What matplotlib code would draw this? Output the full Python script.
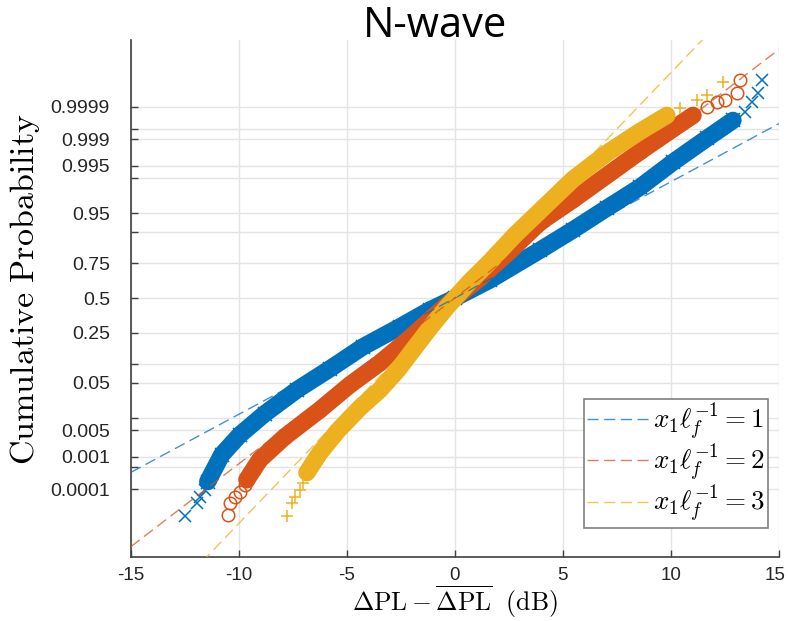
from statistics import NormalDist

import numpy as np
import matplotlib
matplotlib.use('Agg')
import matplotlib.pyplot as plt
from matplotlib.transforms import ScaledTranslation

plt.rcParams['mathtext.fontset'] = 'cm'
plt.rcParams['font.family'] = ['Liberation Sans', 'DejaVu Sans']

# ---- data (dB, cumulative probability) ----
labels = [r'$x_1\ell_f^{-1}=1$', r'$x_1\ell_f^{-1}=2$', r'$x_1\ell_f^{-1}=3$']
colors = ['#0072BD', '#D95319', '#EDB120']
markers = ['x', 'o', '+']

# dense part of each probability plot
blue_x = [-11.44, -10.79, -9.95, -8.80, -7.31, -5.79, -4.26, -2.55, -1.16, 0.0,
          1.62, 3.94, 5.46, 7.04, 8.56, 10.09, 11.67, 12.87]
blue_p = [1.77e-4, 0.00115, 0.0039, 0.0122, 0.037, 0.084, 0.171, 0.287, 0.408, 0.5,
          0.637, 0.824, 0.907, 0.960, 0.9844, 0.99587, 0.99906, 0.999726]
red_x = [-9.63, -9.03, -7.87, -6.25, -4.86, -3.47, -2.08, -1.06, 0.0,
         1.16, 2.55, 3.94, 5.46, 7.04, 8.56, 10.09, 11.02]
red_p = [2.05e-4, 8.3e-4, 0.00348, 0.0148, 0.0456, 0.1035, 0.2186, 0.349, 0.5,
         0.651, 0.820, 0.930, 0.972, 0.9915, 0.99780, 0.999500, 0.99981]
yel_x = [-6.85, -6.25, -5.42, -4.40, -3.47, -2.64, -1.94, -1.16, -0.37,
         0.69, 1.62, 2.78, 3.94, 5.46, 7.04, 8.56, 9.81]
yel_p = [3.4e-4, 0.0013, 0.0049, 0.0163, 0.037, 0.081, 0.156, 0.28, 0.43,
         0.625, 0.760, 0.890, 0.955, 0.9895, 0.99760, 0.999400, 0.99981]

# sparse tail points
blue_tx = [-12.5, -11.94, -11.81, -11.57, -11.34, 13.43, 13.75, 14.03, 14.21]
blue_tp = [1.07e-5, 3.4e-5, 5.6e-5, 9.6e-5, 2.3e-4, 0.99985, 0.999929, 0.999968, 0.9999885]
red_tx = [-10.51, -10.42, -10.19, -9.95, -9.72, 11.67, 12.13, 12.5, 13.06, 13.19]
red_tp = [1.25e-5, 3.4e-5, 5.6e-5, 8.3e-5, 1.41e-4, 0.999896, 0.999929, 0.99994, 0.999966, 0.9999885]
yel_tx = [-7.78, -7.55, -7.41, -7.18, -7.04, 10.42, 11.2, 11.67, 12.41]
yel_tp = [1.07e-5, 3.4e-5, 5.6e-5, 9.7e-5, 1.64e-4, 0.999887, 0.99994, 0.99996, 0.9999863]

# normal fit of each series (mean, sigma in dB)
fit_mu = [0.0, 0.0, 0.0]
fit_sigma = [4.42, 3.1, 2.28]

yticks = [0.0001, 0.0005, 0.001, 0.005, 0.01, 0.05, 0.1, 0.25, 0.5, 0.75,
          0.9, 0.95, 0.99, 0.995, 0.999, 0.9995, 0.9999]
ytick_labels = ['0.0001', '', '0.001', '0.005', '', '0.05', '', '0.25', '0.5', '0.75',
                '', '0.95', '', '0.995', '0.999', '', '0.9999']
xticks = [-15, -10, -5, 0, 5, 10, 15]

bands = [(blue_x, blue_p), (red_x, red_p), (yel_x, yel_p)]
tails = [(blue_tx, blue_tp), (red_tx, red_tp), (yel_tx, yel_tp)]

# probit scale
_nd = NormalDist()
_ppf = np.vectorize(_nd.inv_cdf, otypes=[float])
_cdf = np.vectorize(_nd.cdf, otypes=[float])


def fwd(p):
    p = np.clip(np.asarray(p, dtype=float), 1e-300, 1 - 1e-16)
    return _ppf(p)


def inv(z):
    return _cdf(np.asarray(z, dtype=float))


fig = plt.figure(figsize=(7.88, 6.21), dpi=100)
ax = fig.add_axes([0.166, 0.103, 0.8226, 0.8326])
ax.set_yscale('function', functions=(fwd, inv))

xlim = (-15, 15)
for i in range(3):
    bx, bp = bands[i]
    ax.plot(bx, bp, color=colors[i], lw=12.5, solid_capstyle='round',
            solid_joinstyle='round', zorder=3)
    ax.plot(bx, bp, ls='none', marker=markers[i], ms=10, mew=1.1,
            mfc='none', color=colors[i], zorder=3)
    tx, tp = tails[i]
    ax.plot(tx, tp, ls='none', marker=markers[i], ms=9, mew=1.1,
            mfc='none', color=colors[i], zorder=3)
    d = NormalDist(fit_mu[i], fit_sigma[i])
    ax.plot(xlim, [d.cdf(xlim[0]), d.cdf(xlim[1])], ls=(0, (8, 4)), lw=1.0,
            color=colors[i], alpha=0.75, label=labels[i], zorder=4)

ax.set_xlim(*xlim)
ax.set_ylim(float(inv(-5.04)), float(inv(5.02)))
ax.set_xticks(xticks)
ax.set_xticklabels([str(v) for v in xticks])
ax.set_yticks(yticks)
ax.set_yticklabels(ytick_labels)
ax.yaxis.set_minor_locator(matplotlib.ticker.NullLocator())
ax.tick_params(direction='in', length=5, width=1, colors='#404040',
               labelsize=14, labelcolor='#262626')
ax.xaxis.set_tick_params(pad=7, labelsize=13.5)
ax.yaxis.set_tick_params(pad=15)
ax.grid(True, color='#e4e4e4', lw=1)
ax.set_axisbelow(True)
for s in ['top', 'right']:
    ax.spines[s].set_visible(False)
for s in ['left', 'bottom']:
    ax.spines[s].set_color('#404040')
    ax.spines[s].set_linewidth(1.2)

ax.set_ylabel(r'$\mathrm{Cumulative\ Probability}$', fontsize=24.5)
ax.yaxis.set_label_coords(-0.137, 0.518)
ax.set_xlabel(r'$\Delta\mathrm{PL}-\overline{\Delta\mathrm{PL}}\ \ (\mathrm{dB})$',
              fontsize=18.5)
ax.xaxis.set_label_coords(0.5, -0.051)

leg = ax.legend(loc='lower right', bbox_to_anchor=(0.983, 0.056), borderaxespad=0,
                fontsize=19.5, handlelength=2.4, handletextpad=0.05, labelspacing=0.0,
                fancybox=False, framealpha=1, edgecolor='#7f7f7f', borderpad=0.1)
leg.get_frame().set_linewidth(1.2)

fig.text(0.552, 0.958, 'N-wave', family='Open Sans', fontsize=30,
         ha='center', va='center')

# keep the last x tick label inside the figure
last = ax.get_xticklabels()[-1]
last.set_transform(last.get_transform() + ScaledTranslation(-3 / 72, 0, fig.dpi_scale_trans))

fig.savefig('out.png', dpi=100)
